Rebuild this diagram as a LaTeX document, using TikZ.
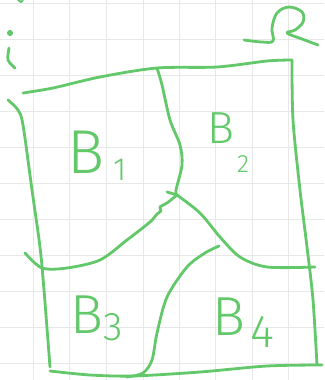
\documentclass[tikz,border=0pt]{standalone}
\usepackage{fontspec}
\IfFontExistsTF{Fira Sans Light}{\newfontfamily\hand{Fira Sans Light}}{\newfontfamily\hand{Fira Sans}}
\definecolor{pen}{RGB}{98,200,106}
\definecolor{gridc}{RGB}{232,232,232}
\begin{document}
\begin{tikzpicture}[x=1pt,y=-1pt,
  pen/.style={draw=pen, line width=2.8pt, line cap=round, line join=round},
  gridline/.style={draw=gridc, line width=1pt},
  lbl/.style={text=pen, inner sep=0pt, anchor=base west}]
\useasboundingbox (0,0) rectangle (324,380);
\fill[white] (0,0) rectangle (324,380);
% grid
\foreach \x in {33,69,106,143,179,215,252,288} \draw[gridline] (\x,0) -- (\x,380);
\foreach \y in {3,39,75,111,147,183,219,255,291,327,363} \draw[gridline] (0,\y) -- (324,\y);
% named points
\coordinate (tl) at (23,93);
\coordinate (tr) at (292,60);
\coordinate (br) at (317,365);
\coordinate (x) at (177,195);
\coordinate (topmid) at (157,68);
% small mark at top
\draw[pen, line width=2pt] (18,0) -- (21,2) -- (23,0);
% i
\fill[pen] (10,33) circle (1.8pt);
\draw[pen] plot[smooth] coordinates {(9,48) (8,60) (15,68)};
% Omega
\draw[pen] plot[smooth, tension=0.6] coordinates {(244,40) (262,42) (273,41) (272,28) (277,13) (289,7) (302,12) (303,22) (295,30) (287,33) (302,39) (318,45)};
% outer boundary
\draw[pen] plot[smooth] coordinates {(tl) (53,88) (100,77) (157,68) (217,67) (267,61) (tr)};
\draw[pen] plot[smooth] coordinates {(tr) (293,120) (300,190) (307,247) (313,300) (br)};
\draw[pen] plot[smooth] coordinates {(8,100) (18,110) (23,125) (32,190) (40,247) (44,290) (50,367)};
\draw[pen] plot[smooth] coordinates {(50,371) (90,375) (133,376) (200,372) (267,366) (322,365)};
% dividers
\draw[pen] plot[smooth] coordinates {(topmid) (162,85) (170,120) (180,145) (182,165) (176,190) (x)};
\draw[pen] (167,192) -- (x);
\draw[pen] plot[smooth] coordinates {(25,253) (42,268) (67,268) (100,260) (127,240) (150,222) (157,214) (161,211) (160,207) (167,203) (x)};
\draw[pen] plot[smooth] coordinates {(x) (200,213) (220,237) (240,257) (267,267) (315,267)};
\draw[pen] plot[smooth] coordinates {(219,246) (205,253) (187,267) (167,297) (157,333) (152,360) (143,373) (127,377)};
% labels
\node[lbl, font=\hand\fontsize{62}{62}\selectfont] (b1) at (67,173) {\makebox[0pt][l]{B}\hspace{46pt}\raisebox{-7pt}{\fontsize{32}{32}\selectfont 1}};
\node[lbl, font=\hand\fontsize{45}{45}\selectfont] (b2) at (207,143) {\makebox[0pt][l]{B}\hspace{30pt}\raisebox{-29pt}{\fontsize{25}{25}\selectfont 2}};
\node[lbl, font=\hand\fontsize{55}{55}\selectfont] (b3) at (70,333) {\makebox[0pt][l]{B}\hspace{33pt}\raisebox{-7pt}{\fontsize{40}{40}\selectfont 3}};
\node[lbl, font=\hand\fontsize{55}{55}\selectfont] (b4) at (212,335) {\makebox[0pt][l]{B}\hspace{38pt}\raisebox{-12pt}{\fontsize{46}{46}\selectfont 4}};
\end{tikzpicture}
\end{document}
